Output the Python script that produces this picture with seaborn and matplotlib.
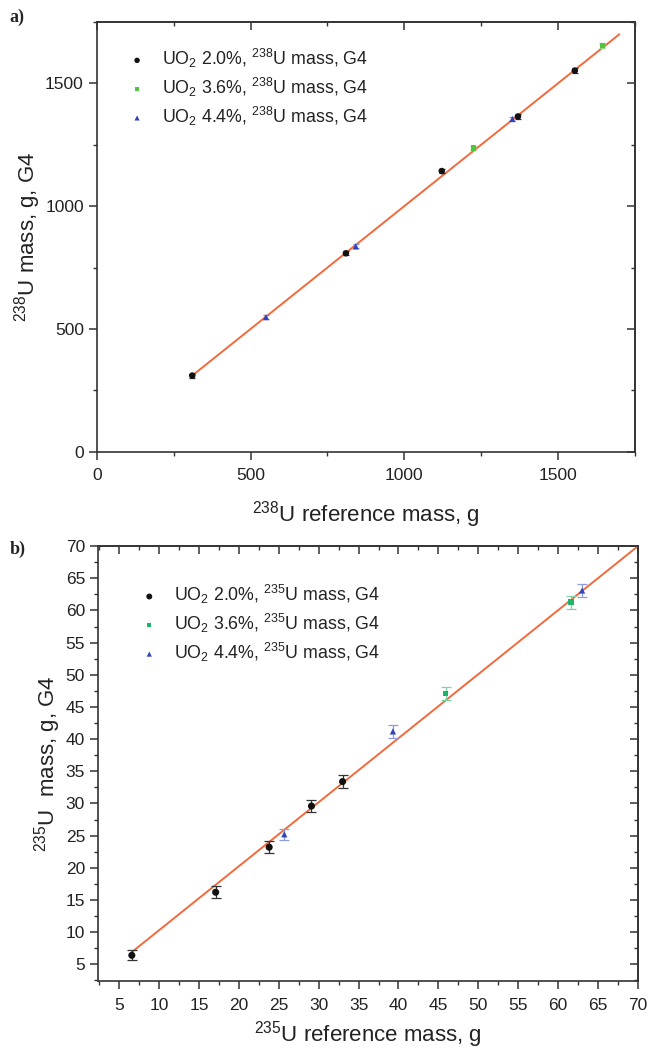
import numpy as np
import pandas as pd
import matplotlib
matplotlib.use("Agg")
import matplotlib.pyplot as plt
import seaborn as sns
from matplotlib.ticker import MultipleLocator

# ---------------- data: panel a (238U) ----------------
a_x_20 = [310, 810, 1122, 1370, 1555]
a_y_20 = [310, 808, 1143, 1365, 1552]
a_x_36 = [1225, 1645]
a_y_36 = [1237, 1655]
a_x_44 = [550, 842, 1352]
a_y_44 = [548, 836, 1355]
a_err_20 = [8, 8, 9, 9, 10]
a_err_36 = [9, 10]
a_err_44 = [8, 8, 9]
a_fit_x = [310, 1700]
a_fit_y = [310, 1700]

# ---------------- data: panel b (235U) ----------------
b_x_20 = [6.6, 17.1, 23.8, 29.1, 33.0]
b_y_20 = [6.4, 16.2, 23.2, 29.6, 33.4]
b_err_20 = [0.8, 0.9, 0.9, 1.0, 1.0]
b_x_36 = [45.9, 61.6]
b_y_36 = [47.1, 61.3]
b_err_36 = [1.0, 1.0]
b_x_44 = [25.7, 39.3, 63.0]
b_y_44 = [25.2, 41.2, 63.1]
b_err_44 = [0.9, 1.0, 1.0]
b_fit_x = [6.6, 70]
b_fit_y = [6.9, 70]

series_names = ["2.0%", "3.6%", "4.4%"]

sns.set_style("ticks")
plt.rcParams["font.family"] = ["Liberation Sans", "DejaVu Sans"]
plt.rcParams["mathtext.fontset"] = "custom"
plt.rcParams["mathtext.rm"] = "Liberation Sans"
plt.rcParams["mathtext.it"] = "Liberation Sans:italic"
plt.rcParams["mathtext.bf"] = "Liberation Sans:bold"

fig = plt.figure(figsize=(6.51, 10.48), dpi=100)
# axes rectangles (figure fractions)
ax_a = fig.add_axes([0.149, 0.569, 0.826, 0.410])
ax_b = fig.add_axes([0.151, 0.0639, 0.829, 0.415])

spine_c = "#333333"
text_c = "#222222"
line_c = "#f26a3c"


def make_df(xs, ys, es, names):
    rows = []
    for x, y, e, n in zip(xs, ys, es, names):
        for xi, yi, ei in zip(x, y, e):
            rows.append({"x": xi, "y": yi, "err": ei, "series": n})
    return pd.DataFrame(rows)


def draw(ax, df, fit_x, fit_y, iso, colors, ecolors, xlim, ylim,
         xmaj, xmin, ymaj, ymin, xlabel, ylabel, sizes, capsize,
         leg_anchor, xlabelpad, ylabelpad):
    fit_df = pd.DataFrame({"x": fit_x, "y": fit_y})
    sns.lineplot(data=fit_df, x="x", y="y", ax=ax, color=line_c, lw=1.4,
                 legend=False, zorder=2)
    markers = {"2.0%": "o", "3.6%": "s", "4.4%": "^"}
    for n in series_names:
        sub = df[df["series"] == n]
        ax.errorbar(sub["x"], sub["y"], yerr=sub["err"], fmt="none",
                    ecolor=ecolors[n], elinewidth=0.9, capsize=capsize,
                    capthick=0.9, zorder=3)
    sns.scatterplot(data=df, x="x", y="y", hue="series", style="series",
                    palette=colors, markers=markers, size="series",
                    sizes=sizes, hue_order=series_names,
                    style_order=series_names, size_order=series_names,
                    edgecolor="none", ax=ax, zorder=4, legend=False)
    handles = []
    for n in series_names:
        h = ax.scatter([], [], color=colors[n], marker=markers[n],
                       s=sizes[n] * 0.7, edgecolor="none",
                       label=r"UO$_2$ %s, $^{%s}$U mass, G4" % (n, iso))
        handles.append(h)
    ax.legend(handles=handles, loc="upper left", bbox_to_anchor=leg_anchor,
              frameon=False, fontsize=12.8, handletextpad=0.9,
              labelspacing=0.32, borderaxespad=0.0, borderpad=0.0,
              handlelength=1.0, labelcolor=text_c)
    ax.set_xlim(*xlim)
    ax.set_ylim(*ylim)
    ax.xaxis.set_major_locator(MultipleLocator(xmaj))
    ax.xaxis.set_minor_locator(MultipleLocator(xmin))
    ax.yaxis.set_major_locator(MultipleLocator(ymaj))
    ax.yaxis.set_minor_locator(MultipleLocator(ymin))
    ax.tick_params(which="major", direction="out", length=5.5, width=1.1,
                   color=spine_c, labelsize=12.5, labelcolor=text_c)
    ax.tick_params(axis="x", which="major", pad=6.5)
    ax.tick_params(axis="y", which="major", pad=4)
    ax.tick_params(which="minor", direction="out", length=3, width=1.0,
                   color=spine_c)
    for s in ax.spines.values():
        s.set_visible(True)
        s.set_color(spine_c)
        s.set_linewidth(1.2)
    ax.set_xlabel(xlabel, fontsize=16, color=text_c, labelpad=xlabelpad)
    ax.set_ylabel(ylabel, fontsize=16, color=text_c, labelpad=ylabelpad)
    # mirrored ticks pointing inward on top/right
    top = ax.secondary_xaxis("top")
    top.xaxis.set_major_locator(MultipleLocator(xmaj))
    top.xaxis.set_minor_locator(MultipleLocator(xmin))
    top.tick_params(which="major", direction="in", length=5.5, width=1.1,
                    color=spine_c, labeltop=False)
    top.tick_params(which="minor", direction="in", length=3, width=1.0,
                    color=spine_c)
    right = ax.secondary_yaxis("right")
    right.yaxis.set_major_locator(MultipleLocator(ymaj))
    right.yaxis.set_minor_locator(MultipleLocator(ymin))
    right.tick_params(which="major", direction="in", length=5.5, width=1.1,
                      color=spine_c, labelright=False)
    right.tick_params(which="minor", direction="in", length=3, width=1.0,
                      color=spine_c)
    for sec in (top, right):
        for s in sec.spines.values():
            s.set_color(spine_c)
            s.set_linewidth(1.2)


df_a = make_df([a_x_20, a_x_36, a_x_44], [a_y_20, a_y_36, a_y_44],
               [a_err_20, a_err_36, a_err_44], series_names)
df_b = make_df([b_x_20, b_x_36, b_x_44], [b_y_20, b_y_36, b_y_44],
               [b_err_20, b_err_36, b_err_44], series_names)

colors_a = {"2.0%": "#111111", "3.6%": "#52c43a", "4.4%": "#3245b8"}
ecol_a = {"2.0%": "#333333", "3.6%": "#8fd67e", "4.4%": "#7f8fd6"}
colors_b = {"2.0%": "#111111", "3.6%": "#1fb36a", "4.4%": "#2f45b8"}
ecol_b = {"2.0%": "#333333", "3.6%": "#7fd2a6", "4.4%": "#8f9be0"}

draw(ax_a, df_a, a_fit_x, a_fit_y, "238", colors_a, ecol_a,
     (0, 1750), (0, 1750), 500, 250, 500, 250,
     r"$^{238}$U reference mass, g", r"$^{238}$U mass, g, G4",
     {"2.0%": 22, "3.6%": 14, "4.4%": 20}, 2.0,
     (0.058, 0.942), 11, 1.5)
draw(ax_b, df_b, b_fit_x, b_fit_y, "235", colors_b, ecol_b,
     (2.4, 70), (2.4, 70), 5, 2.5, 5, 2.5,
     r"$^{235}$U reference mass, g", r"$^{235}$U  mass, g, G4",
     {"2.0%": 26, "3.6%": 14, "4.4%": 20}, 3.5,
     (0.078, 0.915), 4.5, 2)

fig.text(0.015, 0.992, "a)", fontsize=13, fontweight="bold",
         family=["Liberation Serif", "DejaVu Serif"], va="top")
fig.text(0.015, 0.484, "b)", fontsize=13, fontweight="bold",
         family=["Liberation Serif", "DejaVu Serif"], va="top")

fig.savefig("out.png", dpi=100)
